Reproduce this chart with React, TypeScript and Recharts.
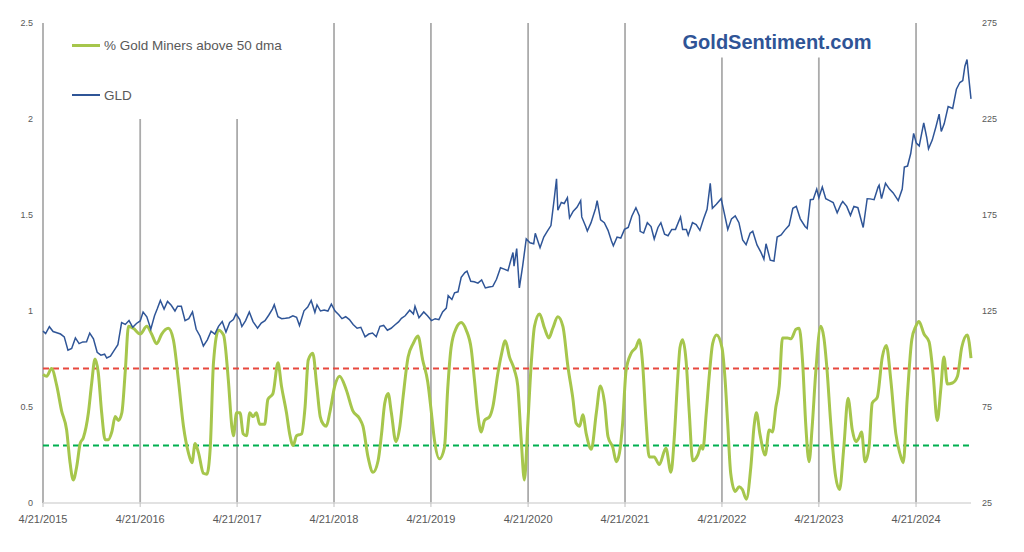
import React from "react";
import {
  ComposedChart,
  Line,
  XAxis,
  YAxis,
  ReferenceLine,
  Legend,
} from "recharts";

// ---------- DATA ----------
const START_DATE = "2015-04-21";
const tickYears = [2015, 2016, 2017, 2018, 2019, 2020, 2021, 2022, 2023, 2024];
const leftTicks = [0, 0.5, 1, 1.5, 2, 2.5];
const rightTicks = [25, 75, 125, 175, 225, 275];
const overboughtLevel = 0.7;
const oversoldLevel = 0.3;
// vertical year markers: height in left-axis units
const markerHeights = [2.5, 2.0, 2.0, 2.5, 2.5, 2.5, 2.5, 2.32, 2.32, 2.5];

const gldSeries: [string, number][] = [
  ["2015-04-21", 114.5], ["2015-05-01", 113.2], ["2015-05-15", 116.8], ["2015-05-29", 114.3],
  ["2015-06-12", 113.7], ["2015-06-26", 113.0], ["2015-07-10", 111.5], ["2015-07-24", 104.6],
  ["2015-08-07", 105.5], ["2015-08-21", 111.0], ["2015-09-04", 108.0], ["2015-09-18", 108.9],
  ["2015-10-02", 109.0], ["2015-10-14", 113.5], ["2015-10-28", 110.5], ["2015-11-11", 103.5],
  ["2015-11-25", 102.0], ["2015-12-09", 102.5], ["2015-12-17", 100.5], ["2015-12-31", 101.5],
  ["2016-01-14", 104.5], ["2016-01-28", 107.5], ["2016-02-11", 119.0], ["2016-02-25", 118.0],
  ["2016-03-10", 120.0], ["2016-03-24", 116.5], ["2016-04-07", 118.5], ["2016-04-21", 119.8],
  ["2016-05-02", 124.5], ["2016-05-16", 122.0], ["2016-05-31", 115.5], ["2016-06-14", 122.5],
  ["2016-06-24", 126.0], ["2016-07-06", 130.5], ["2016-07-20", 126.0], ["2016-08-02", 130.0],
  ["2016-08-16", 128.0], ["2016-08-30", 125.0], ["2016-09-09", 127.5], ["2016-09-23", 127.5],
  ["2016-10-07", 120.0], ["2016-10-21", 121.0], ["2016-11-04", 124.5], ["2016-11-18", 115.5],
  ["2016-12-02", 112.0], ["2016-12-15", 106.8], ["2016-12-30", 110.0],
  ["2017-01-13", 114.5], ["2017-01-27", 113.0], ["2017-02-10", 117.0], ["2017-02-24", 119.5],
  ["2017-03-10", 114.0], ["2017-03-24", 119.0], ["2017-04-07", 120.5], ["2017-04-17", 123.5],
  ["2017-05-01", 120.5], ["2017-05-09", 116.9], ["2017-05-23", 120.0], ["2017-06-06", 124.5],
  ["2017-06-20", 119.5], ["2017-07-07", 116.0], ["2017-07-21", 118.7], ["2017-08-04", 120.0],
  ["2017-08-18", 122.8], ["2017-09-01", 126.0], ["2017-09-08", 128.3], ["2017-09-22", 122.0],
  ["2017-10-06", 121.0], ["2017-10-20", 121.2], ["2017-11-03", 121.5], ["2017-11-17", 122.5],
  ["2017-12-01", 121.7], ["2017-12-12", 117.4], ["2017-12-29", 125.1],
  ["2018-01-12", 127.0], ["2018-01-25", 130.5], ["2018-02-08", 124.3], ["2018-02-16", 128.2],
  ["2018-03-01", 125.0], ["2018-03-15", 125.5], ["2018-03-29", 125.0], ["2018-04-11", 128.6],
  ["2018-04-25", 125.0], ["2018-05-09", 123.0], ["2018-05-21", 121.0], ["2018-06-04", 122.0],
  ["2018-06-18", 120.5], ["2018-07-02", 118.0], ["2018-07-17", 116.0], ["2018-07-31", 116.5],
  ["2018-08-16", 111.5], ["2018-08-30", 113.0], ["2018-09-13", 113.5], ["2018-09-27", 111.6],
  ["2018-10-11", 117.0], ["2018-10-25", 117.5], ["2018-11-08", 115.0], ["2018-11-22", 116.0],
  ["2018-12-06", 117.7], ["2018-12-20", 119.3], ["2018-12-31", 121.2],
  ["2019-01-14", 122.5], ["2019-01-31", 125.4], ["2019-02-14", 123.5], ["2019-02-20", 127.5],
  ["2019-03-07", 121.5], ["2019-03-25", 124.5], ["2019-04-08", 122.5], ["2019-04-23", 120.0],
  ["2019-05-07", 121.0], ["2019-05-21", 120.5], ["2019-06-04", 124.5], ["2019-06-18", 126.5],
  ["2019-06-25", 133.0], ["2019-07-09", 131.0], ["2019-07-19", 134.5], ["2019-08-01", 135.0],
  ["2019-08-13", 142.5], ["2019-08-27", 145.0], ["2019-09-04", 145.8], ["2019-09-18", 140.5],
  ["2019-10-01", 140.2], ["2019-10-15", 139.5], ["2019-10-29", 141.2], ["2019-11-12", 137.0],
  ["2019-11-26", 137.5], ["2019-12-10", 137.8], ["2019-12-24", 141.5],
  ["2020-01-08", 147.5], ["2020-01-22", 146.8], ["2020-02-05", 146.0], ["2020-02-24", 155.5],
  ["2020-02-28", 148.4], ["2020-03-09", 157.5], ["2020-03-19", 137.0], ["2020-03-31", 148.0],
  ["2020-04-14", 162.5], ["2020-04-28", 160.5], ["2020-05-12", 160.0], ["2020-05-18", 165.5],
  ["2020-06-05", 158.0], ["2020-06-19", 163.5], ["2020-07-02", 166.5], ["2020-07-16", 169.5],
  ["2020-07-28", 183.0], ["2020-08-06", 193.9], ["2020-08-11", 177.5], ["2020-08-24", 181.5],
  ["2020-09-04", 181.0], ["2020-09-16", 184.0], ["2020-09-24", 173.5], ["2020-10-08", 177.0],
  ["2020-10-22", 179.0], ["2020-11-05", 182.5], ["2020-11-09", 174.0], ["2020-11-24", 169.0],
  ["2020-11-30", 166.7], ["2020-12-14", 171.0], ["2020-12-31", 178.4],
  ["2021-01-06", 182.5], ["2021-01-19", 172.5], ["2021-02-02", 171.0], ["2021-02-16", 167.0],
  ["2021-03-01", 161.5], ["2021-03-08", 159.0], ["2021-03-22", 163.5], ["2021-04-05", 163.0],
  ["2021-04-19", 167.5], ["2021-05-03", 168.5], ["2021-05-17", 174.5], ["2021-06-01", 178.8],
  ["2021-06-14", 174.5], ["2021-06-17", 166.5], ["2021-06-30", 165.6], ["2021-07-14", 171.0],
  ["2021-07-28", 169.0], ["2021-08-09", 162.5], ["2021-08-23", 168.5], ["2021-09-03", 171.0],
  ["2021-09-17", 165.0], ["2021-09-30", 164.2], ["2021-10-14", 167.5], ["2021-10-28", 167.5],
  ["2021-11-16", 174.0], ["2021-11-24", 167.5], ["2021-12-08", 167.5], ["2021-12-15", 164.5],
  ["2021-12-31", 171.0],
  ["2022-01-14", 170.0], ["2022-01-28", 167.0], ["2022-02-11", 173.0], ["2022-02-24", 178.0],
  ["2022-03-08", 191.5], ["2022-03-16", 178.5], ["2022-03-31", 180.6], ["2022-04-18", 183.5],
  ["2022-04-29", 176.5], ["2022-05-13", 167.5], ["2022-05-27", 173.0], ["2022-06-10", 174.5],
  ["2022-06-24", 171.0], ["2022-07-08", 162.0], ["2022-07-21", 159.5], ["2022-08-05", 165.5],
  ["2022-08-15", 166.5], ["2022-08-31", 159.4], ["2022-09-15", 155.5], ["2022-09-26", 152.0],
  ["2022-10-04", 160.0], ["2022-10-20", 151.5], ["2022-11-03", 151.0], ["2022-11-15", 163.5],
  ["2022-11-30", 164.6], ["2022-12-13", 167.0], ["2022-12-30", 169.6],
  ["2023-01-13", 178.5], ["2023-01-26", 179.5], ["2023-02-10", 173.0], ["2023-02-28", 169.0],
  ["2023-03-08", 168.0], ["2023-03-20", 183.0], ["2023-03-31", 183.2], ["2023-04-13", 188.5],
  ["2023-04-21", 184.0], ["2023-05-04", 189.6], ["2023-05-17", 183.5], ["2023-05-31", 182.5],
  ["2023-06-14", 181.5], ["2023-06-29", 176.2], ["2023-07-13", 180.5], ["2023-07-20", 182.0],
  ["2023-08-04", 179.5], ["2023-08-18", 174.8], ["2023-08-31", 179.5], ["2023-09-15", 178.8],
  ["2023-09-29", 171.5], ["2023-10-05", 168.5], ["2023-10-20", 183.5], ["2023-10-31", 183.4],
  ["2023-11-15", 183.0], ["2023-11-30", 189.5], ["2023-12-04", 190.5], ["2023-12-13", 183.5],
  ["2023-12-28", 191.5],
  ["2024-01-12", 188.5], ["2024-01-26", 186.5], ["2024-02-14", 182.5], ["2024-02-29", 188.5],
  ["2024-03-08", 200.0], ["2024-03-20", 200.5], ["2024-04-01", 207.0], ["2024-04-12", 217.5],
  ["2024-04-22", 212.5], ["2024-05-03", 211.0], ["2024-05-20", 223.0], ["2024-05-31", 215.5],
  ["2024-06-07", 209.5], ["2024-06-21", 214.0], ["2024-07-05", 221.0], ["2024-07-17", 227.5],
  ["2024-07-25", 218.5], ["2024-08-05", 222.5], ["2024-08-20", 231.5], ["2024-09-06", 230.5],
  ["2024-09-20", 240.5], ["2024-10-03", 244.0], ["2024-10-14", 245.0], ["2024-10-22", 252.5],
  ["2024-10-30", 256.0], ["2024-11-06", 246.0], ["2024-11-14", 235.5],
];

const minersSeries: [string, number][] = [
  ["2015-04-21", 0.67], ["2015-05-05", 0.66], ["2015-05-23", 0.70], ["2015-06-12", 0.61],
  ["2015-06-30", 0.48], ["2015-07-19", 0.38], ["2015-07-31", 0.22], ["2015-08-13", 0.12],
  ["2015-08-26", 0.19], ["2015-09-08", 0.31], ["2015-09-20", 0.34], ["2015-10-09", 0.47],
  ["2015-10-21", 0.62], ["2015-11-03", 0.75], ["2015-11-15", 0.68], ["2015-11-28", 0.47],
  ["2015-12-11", 0.33], ["2015-12-23", 0.33], ["2016-01-05", 0.37], ["2016-01-18", 0.45],
  ["2016-01-30", 0.43], ["2016-02-12", 0.47], ["2016-02-25", 0.69], ["2016-03-08", 0.92],
  ["2016-03-26", 0.91], ["2016-04-21", 0.88], ["2016-05-16", 0.92], ["2016-06-03", 0.88],
  ["2016-06-22", 0.83], ["2016-07-11", 0.88], ["2016-08-05", 0.91], ["2016-08-24", 0.85],
  ["2016-09-12", 0.64], ["2016-10-01", 0.40], ["2016-10-20", 0.26], ["2016-11-02", 0.21],
  ["2016-11-14", 0.31], ["2016-11-27", 0.26], ["2016-12-15", 0.155], ["2016-12-28", 0.15],
  ["2017-01-10", 0.29], ["2017-01-22", 0.73], ["2017-02-10", 0.90], ["2017-03-01", 0.875],
  ["2017-03-19", 0.64], ["2017-04-01", 0.40], ["2017-04-07", 0.35], ["2017-04-19", 0.47],
  ["2017-05-02", 0.47], ["2017-05-14", 0.36], ["2017-05-26", 0.35], ["2017-06-08", 0.47],
  ["2017-06-20", 0.45], ["2017-07-03", 0.47], ["2017-07-15", 0.41], ["2017-08-03", 0.41],
  ["2017-08-15", 0.54], ["2017-09-03", 0.57], ["2017-09-22", 0.73], ["2017-10-05", 0.61],
  ["2017-10-24", 0.47], ["2017-11-05", 0.36], ["2017-11-18", 0.30], ["2017-12-01", 0.35],
  ["2017-12-20", 0.36], ["2018-01-02", 0.50], ["2018-01-14", 0.745], ["2018-01-31", 0.78],
  ["2018-02-15", 0.61], ["2018-02-28", 0.45], ["2018-03-12", 0.41], ["2018-03-23", 0.40],
  ["2018-04-05", 0.47], ["2018-04-24", 0.61], ["2018-05-12", 0.66], ["2018-06-06", 0.59],
  ["2018-07-01", 0.48], ["2018-07-26", 0.44], ["2018-08-08", 0.40], ["2018-08-27", 0.24],
  ["2018-09-15", 0.16], ["2018-10-04", 0.22], ["2018-10-17", 0.36], ["2018-10-29", 0.52],
  ["2018-11-11", 0.57], ["2018-11-23", 0.47], ["2018-12-10", 0.32], ["2018-12-25", 0.40],
  ["2019-01-06", 0.55], ["2019-01-25", 0.76], ["2019-02-13", 0.83], ["2019-03-03", 0.87],
  ["2019-03-21", 0.745], ["2019-04-09", 0.63], ["2019-04-22", 0.48], ["2019-05-04", 0.33],
  ["2019-05-23", 0.23], ["2019-06-11", 0.29], ["2019-06-23", 0.59], ["2019-07-06", 0.81],
  ["2019-07-25", 0.91], ["2019-08-13", 0.94], ["2019-09-01", 0.90], ["2019-09-20", 0.80],
  ["2019-10-02", 0.64], ["2019-10-14", 0.47], ["2019-10-27", 0.37], ["2019-11-09", 0.43],
  ["2019-11-28", 0.45], ["2019-12-10", 0.50], ["2019-12-29", 0.675], ["2020-01-11", 0.77],
  ["2020-01-26", 0.845], ["2020-02-11", 0.76], ["2020-03-01", 0.69], ["2020-03-13", 0.61],
  ["2020-03-26", 0.33], ["2020-04-07", 0.12], ["2020-04-20", 0.415], ["2020-05-03", 0.73],
  ["2020-05-15", 0.92], ["2020-06-03", 0.985], ["2020-06-22", 0.91], ["2020-07-08", 0.86],
  ["2020-07-23", 0.91], ["2020-08-11", 0.97], ["2020-08-30", 0.92], ["2020-09-18", 0.71],
  ["2020-10-06", 0.55], ["2020-10-19", 0.415], ["2020-11-01", 0.40], ["2020-11-13", 0.46],
  ["2020-11-26", 0.36], ["2020-12-15", 0.28], ["2021-01-03", 0.47], ["2021-01-18", 0.61],
  ["2021-02-03", 0.52], ["2021-02-16", 0.345], ["2021-03-06", 0.29], ["2021-03-19", 0.215],
  ["2021-03-31", 0.26], ["2021-04-12", 0.415], ["2021-04-25", 0.69], ["2021-05-14", 0.78],
  ["2021-06-01", 0.81], ["2021-06-14", 0.85], ["2021-06-26", 0.73], ["2021-07-09", 0.43],
  ["2021-07-21", 0.24], ["2021-08-09", 0.24], ["2021-08-28", 0.20], ["2021-09-22", 0.285],
  ["2021-10-11", 0.16], ["2021-10-23", 0.33], ["2021-11-05", 0.64], ["2021-11-14", 0.81],
  ["2021-11-24", 0.85], ["2021-12-07", 0.74], ["2021-12-19", 0.47], ["2022-01-01", 0.22],
  ["2022-01-20", 0.25], ["2022-02-02", 0.30], ["2022-02-08", 0.28], ["2022-02-21", 0.47],
  ["2022-03-05", 0.675], ["2022-03-17", 0.83], ["2022-04-01", 0.875], ["2022-04-21", 0.81],
  ["2022-05-03", 0.64], ["2022-05-12", 0.43], ["2022-05-24", 0.155], ["2022-06-10", 0.06],
  ["2022-06-25", 0.085], ["2022-07-07", 0.07], ["2022-07-22", 0.02], ["2022-08-08", 0.19],
  ["2022-08-20", 0.40], ["2022-08-29", 0.47], ["2022-09-11", 0.36], ["2022-10-01", 0.25],
  ["2022-10-16", 0.38], ["2022-10-28", 0.37], ["2022-11-10", 0.50], ["2022-11-23", 0.61],
  ["2022-12-05", 0.86], ["2022-12-24", 0.86], ["2023-01-06", 0.855], ["2023-01-25", 0.905],
  ["2023-02-06", 0.91], ["2023-02-19", 0.73], ["2023-03-03", 0.40], ["2023-03-15", 0.215],
  ["2023-03-27", 0.40], ["2023-04-09", 0.675], ["2023-04-28", 0.92], ["2023-05-10", 0.86],
  ["2023-05-22", 0.69], ["2023-06-04", 0.43], ["2023-06-23", 0.14], ["2023-07-08", 0.07],
  ["2023-07-24", 0.29], ["2023-08-09", 0.545], ["2023-08-25", 0.38], ["2023-09-07", 0.32],
  ["2023-09-19", 0.34], ["2023-09-29", 0.37], ["2023-10-12", 0.215], ["2023-10-27", 0.29],
  ["2023-11-08", 0.52], ["2023-11-27", 0.55], ["2023-12-16", 0.76], ["2023-12-31", 0.82],
  ["2024-01-17", 0.64], ["2024-02-05", 0.36], ["2024-02-20", 0.26], ["2024-03-04", 0.21],
  ["2024-03-19", 0.55], ["2024-04-05", 0.85], ["2024-04-20", 0.92], ["2024-05-02", 0.945],
  ["2024-05-21", 0.88], ["2024-06-09", 0.84], ["2024-06-24", 0.675], ["2024-07-10", 0.43],
  ["2024-07-23", 0.59], ["2024-08-04", 0.76], ["2024-08-17", 0.62], ["2024-09-05", 0.625],
  ["2024-09-24", 0.66], ["2024-10-10", 0.81], ["2024-10-31", 0.875], ["2024-11-14", 0.755],
];

// ---------- HELPERS ----------
const toUTC = (s: string) => {
  const [y, m, d] = s.split("-").map(Number);
  return Date.UTC(y, m - 1, d);
};
const START = toUTC(START_DATE);
const dayOf = (s: string) => Math.round((toUTC(s) - START) / 86400000);

const tableMap = new Map<number, any>();
gldSeries.forEach(([d, v]) => {
  const t = dayOf(d);
  const row = tableMap.get(t) || { t };
  row.gld = v;
  tableMap.set(t, row);
});
minersSeries.forEach(([d, v]) => {
  const t = dayOf(d);
  const row = tableMap.get(t) || { t };
  row.miners = v;
  tableMap.set(t, row);
});
const chartData = Array.from(tableMap.values()).sort((a, b) => a.t - b.t);

const yearTickDays = tickYears.map((y) => dayOf(`${y}-04-21`));
const tickLabel = (t: number) => {
  const i = yearTickDays.indexOf(t);
  return i >= 0 ? `4/21/${tickYears[i]}` : "";
};

const FONT = "'Liberation Sans', Arial, sans-serif";
const GREEN = "#A6C64C";
const BLUE = "#2F5597";

const renderLegend = () => (
  <div style={{ fontFamily: FONT, fontSize: 13.5, color: "#595959" }}>
    <div style={{ display: "flex", alignItems: "center", height: 20 }}>
      <div style={{ width: 28, height: 3, background: GREEN, marginRight: 4 }} />
      <span>% Gold Miners above 50 dma</span>
    </div>
    <div style={{ display: "flex", alignItems: "center", height: 20, marginTop: 30 }}>
      <div style={{ width: 28, height: 1.6, background: BLUE, marginRight: 4 }} />
      <span>GLD</span>
    </div>
  </div>
);

export default function App() {
  return (
    <div style={{ position: "relative", width: 1008, height: 536, fontFamily: FONT, background: "#fff" }}>
      <ComposedChart
        width={1008}
        height={536}
        data={chartData}
        margin={{ top: 15, right: 0, left: 0, bottom: 11 }}
      >
        <XAxis
          dataKey="t"
          type="number"
          domain={[0, "dataMax"]}
          ticks={yearTickDays}
          interval={0}
          tickFormatter={tickLabel}
          height={30}
          tickSize={4}
          tickMargin={8}
          axisLine={{ stroke: "#D9D9D9", strokeWidth: 1.3 }}
          tickLine={{ stroke: "#BFBFBF" }}
          tick={{ fontSize: 11, fill: "#595959", fontFamily: FONT }}
        />
        <YAxis
          yAxisId="left"
          orientation="left"
          domain={[0, 2.5]}
          ticks={leftTicks}
          interval={0}
          width={35}
          axisLine={false}
          tickLine={false}
          tickMargin={4}
          tick={{ fontSize: 9, fill: "#595959", fontFamily: FONT }}
        />
        <YAxis
          yAxisId="right"
          orientation="right"
          domain={[25, 275]}
          ticks={rightTicks}
          interval={0}
          width={45}
          axisLine={false}
          tickLine={false}
          tickMargin={5}
          tick={{ fontSize: 9, fill: "#595959", fontFamily: FONT, textAnchor: "start" }}
        />
        {yearTickDays.map((t, i) => (
          <ReferenceLine
            key={`yr-${i}`}
            yAxisId="left"
            segment={[
              { x: t, y: 0 },
              { x: t, y: markerHeights[i] },
            ]}
            stroke="#ABABAB"
            strokeWidth={1.8}
          />
        ))}
        <ReferenceLine yAxisId="left" y={overboughtLevel} stroke="#E8483E" strokeWidth={2} strokeDasharray="6 4" />
        <ReferenceLine yAxisId="left" y={oversoldLevel} stroke="#00B050" strokeWidth={2} strokeDasharray="6 4" />
        <Line
          yAxisId="left"
          type="monotone"
          dataKey="miners"
          name="% Gold Miners above 50 dma"
          stroke={GREEN}
          strokeWidth={3}
          dot={false}
          connectNulls
          isAnimationActive={false}
        />
        <Line
          yAxisId="right"
          type="linear"
          dataKey="gld"
          name="GLD"
          stroke={BLUE}
          strokeWidth={1.5}
          dot={false}
          connectNulls
          isAnimationActive={false}
        />
        <Legend
          layout="horizontal"
          verticalAlign="middle"
          align="center"
          content={renderLegend}
          wrapperStyle={{ top: 27, left: 64, width: 320, height: 70 }}
        />
      </ComposedChart>
      <div
        style={{
          position: "absolute",
          left: 619,
          width: 300,
          top: 22,
          textAlign: "center",
          fontFamily: FONT,
          fontWeight: 700,
          fontSize: 20,
          lineHeight: "24px",
          color: "#2F5496",
        }}
      >
        GoldSentiment.com
      </div>
    </div>
  );
}
